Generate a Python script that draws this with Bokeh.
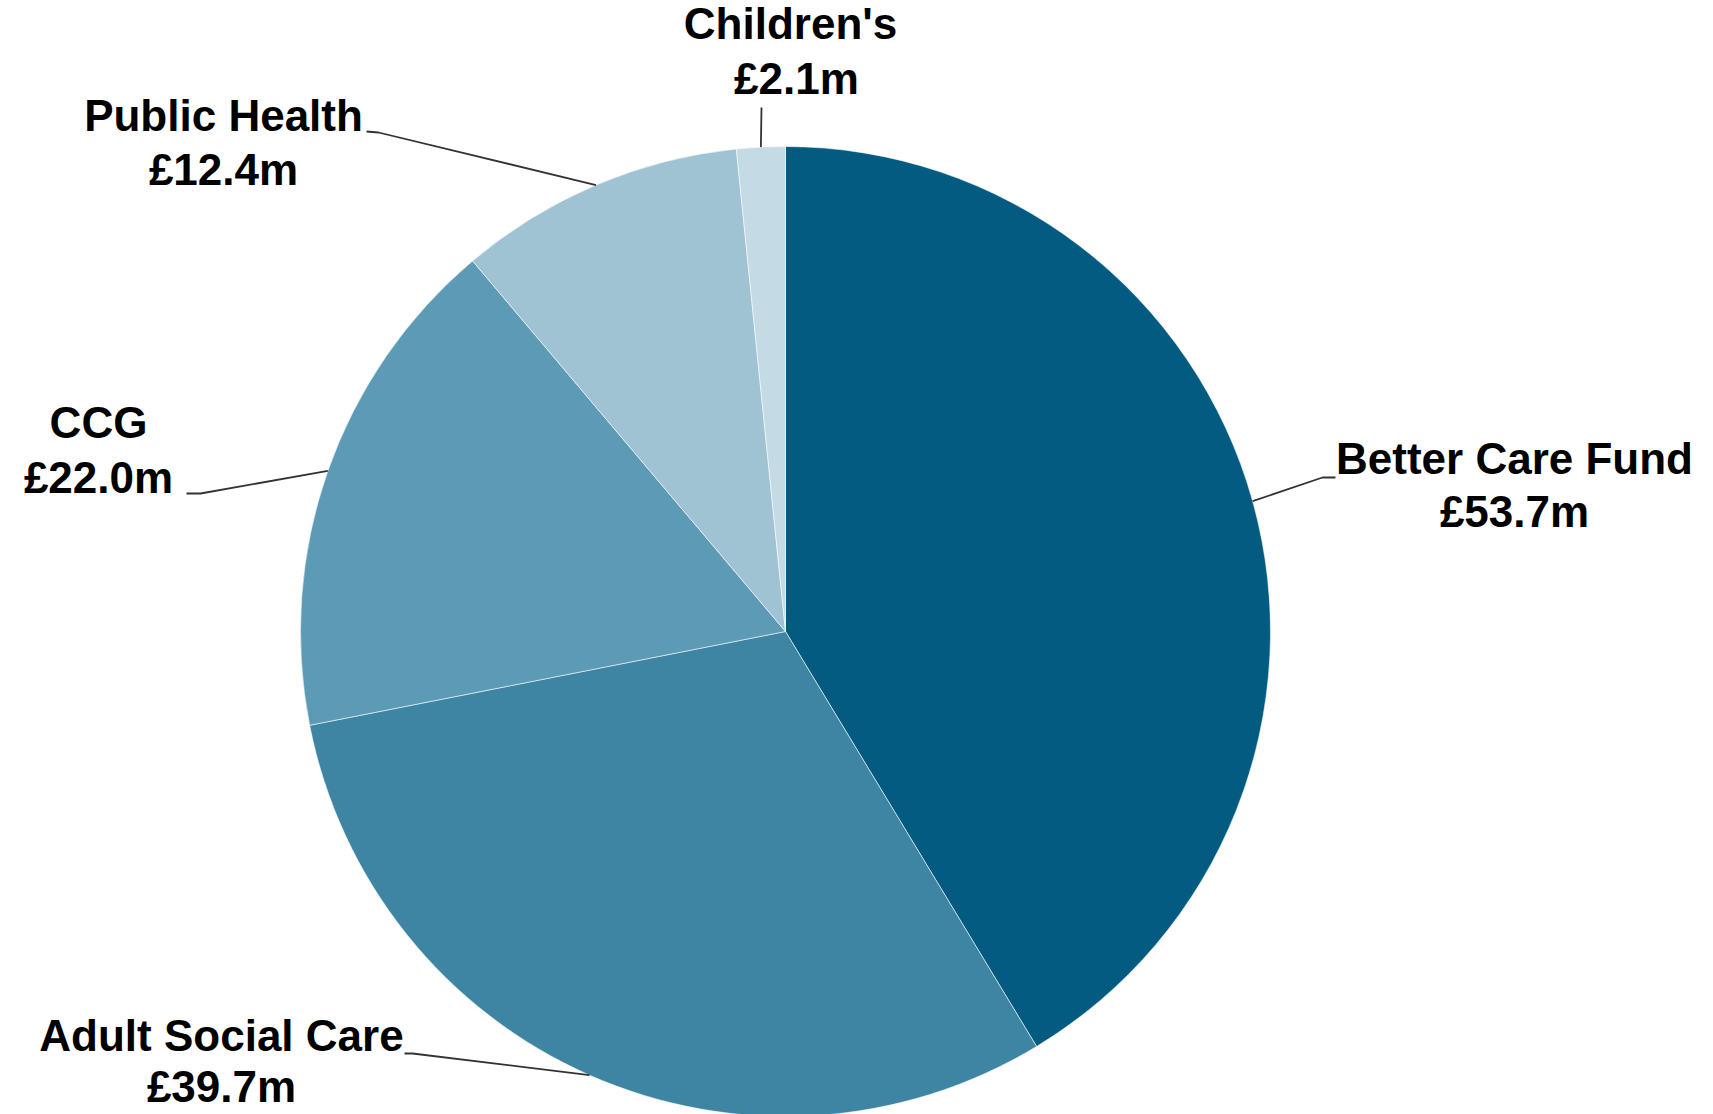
import math
from bokeh.plotting import figure
from bokeh.models import Range1d, ColumnDataSource
from bokeh.core.properties import value
from bokeh.embed import file_html
from bokeh.resources import INLINE

# ---- data ----
categories = ["Better Care Fund", "Adult Social Care", "CCG", "Public Health", "Children's"]
amounts = [53.7, 39.7, 22.0, 12.4, 2.1]
colors = ["#045b82", "#3d85a2", "#5c9ab5", "#9fc3d3", "#c4dae5"]

# ---- layout (page pixel coordinates) ----
W, H = 1713, 1114
CX, CY, R = 785, 631, 485
FONT = "Liberation Sans"

# label layout: (line1 x, line1 baseline, line2 x, line2 baseline, leader elbow points)
label_layout = {
    "Better Care Fund": (1514, 458, 1514, 511, [(1335, 477), (1322, 477)]),
    "Adult Social Care": (221, 1035, 221, 1086, [(404, 1053), (412, 1053)]),
    "CCG": (98, 422, 98, 477, [(186, 493), (200, 493)]),
    "Public Health": (223, 115, 223, 169, [(366, 131), (378, 132)]),
    "Children's": (790, 23, 796, 78, [(761, 107)]),
}


def Y(py):
    return H - py


p = figure(width=W, height=H, x_range=Range1d(0, W), y_range=Range1d(0, H),
           output_backend="svg", toolbar_location=None, min_border=0)
p.axis.visible = False
p.grid.visible = False
p.outline_line_color = None
p.background_fill_color = "white"
p.border_fill_color = "white"

total = sum(amounts)
starts, ends, mids = [], [], []
c = 0.0
for a in amounts:
    c0 = c
    c1 = c + a / total
    starts.append(math.pi / 2 - 2 * math.pi * c0)
    ends.append(math.pi / 2 - 2 * math.pi * c1)
    mids.append(2 * math.pi * (c0 + c1) / 2)  # clockwise from top
    c = c1

src = ColumnDataSource(dict(x=[CX] * len(amounts), y=[Y(CY)] * len(amounts), start=starts, end=ends,
                            color=colors, cat=categories, amt=amounts))
p.wedge(x="x", y="y", radius=R, start_angle="start", end_angle="end", direction="clock",
        fill_color="color", line_color="white", line_width=0.8, line_alpha=0.7, source=src)

for cat, amt, th in zip(categories, amounts, mids):
    x1, b1, x2, b2, elbow = label_layout[cat]
    px = CX + R * math.sin(th)
    py = CY - R * math.cos(th)
    xs = [e[0] for e in elbow] + [px]
    ys = [Y(e[1]) for e in elbow] + [Y(py)]
    p.line(xs, ys, line_color="#333333", line_width=1.8)
    for tx, tb, txt in ((x1, b1, cat), (x2, b2, f"£{amt:.1f}m")):
        p.text(x=[tx], y=[Y(tb)], text=[txt], text_font=value(FONT), text_font_style="bold",
               text_font_size="44px", text_align="center", text_baseline="alphabetic",
               text_color="#000000")

open("out.html", "w").write(file_html(p, INLINE))
